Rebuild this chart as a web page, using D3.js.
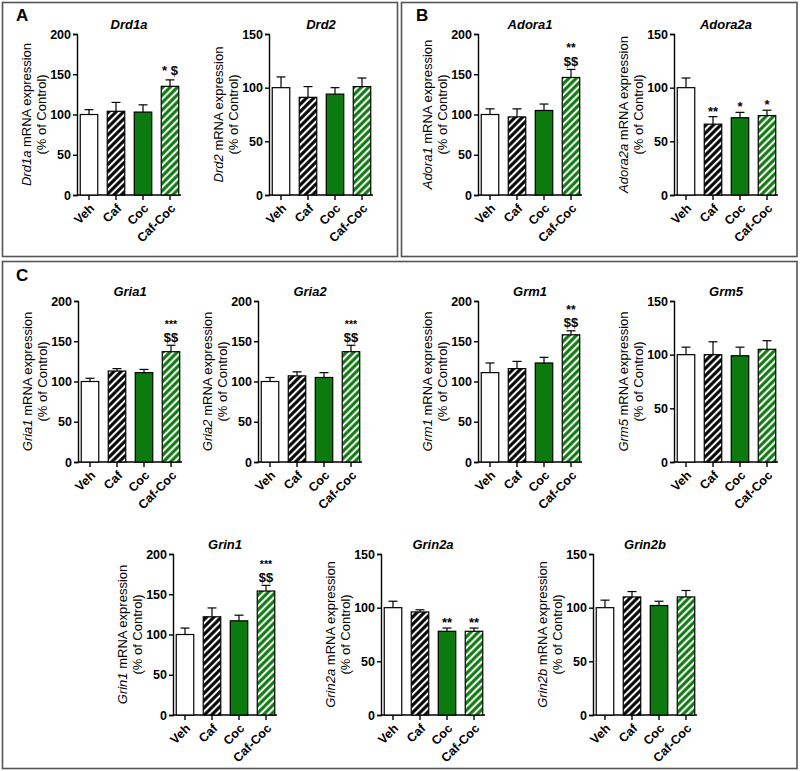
<!DOCTYPE html>
<html><head><meta charset="utf-8">
<script src="https://cdn.jsdelivr.net/npm/d3@7"></script>
<style>body{margin:0;background:#fff}svg{display:block}text{font-family:"Liberation Sans",Arial,sans-serif}</style>
</head><body>
<script>
const categories = ["Veh","Caf","Coc","Caf-Coc"];
const genes = ["Drd1a","Drd2","Adora1","Adora2a","Gria1","Gria2","Grm1","Grm5","Grin1","Grin2a","Grin2b"];
const yMaxes = [200,150,200,150,200,200,200,150,200,150,150];
const means = [
  [100,104,103,135],
  [100,91,94,101],
  [100,97,105,146],
  [100,66,72,74],
  [100,113,111,137],
  [100,107,105,137],
  [111,116,123,158],
  [100,100,99,105],
  [100,122,117,154],
  [100,96,78,78],
  [100,110,102,110]
];
const errTops = [
  [106,115,112,143],
  [110,101,100,109],
  [107,107,113,156],
  [109,73,77,79],
  [104,116,115,145],
  [105,112,111,145],
  [123,125,130,163],
  [107,112,107,113],
  [108,133,124,161],
  [106,98,81,81],
  [107,115,106,116]
];
const annotations = [
  [[],[],[],["* $"]],
  [[],[],[],[]],
  [[],[],[],["**","$$"]],
  [[],["**"],["*"],["*"]],
  [[],[],[],["***","$$"]],
  [[],[],[],["***","$$"]],
  [[],[],[],["**","$$"]],
  [[],[],[],[]],
  [[],[],[],["***","$$"]],
  [[],[],["**"],["**"]],
  [[],[],[],[]]
];
const panelLetters = ["A","B","C"];

// layout (positions only)
const layout = [
  {x:77, top:34, bot:195},{x:269, top:34, bot:195},
  {x:478, top:34, bot:195},{x:674, top:34, bot:195},
  {x:78, top:301, bot:462},{x:258, top:301, bot:462},
  {x:478, top:301, bot:462},{x:674, top:301, bot:462},
  {x:173, top:554, bot:715},{x:381, top:554, bot:715},
  {x:593, top:554, bot:715}
];
const boxes = [{x:2.5,y:2.5,w:395,h:254},{x:401.5,y:2.5,w:395.5,h:254},{x:2.5,y:261.5,w:794.5,h:507}];
const letterPos = [{x:16,y:21},{x:416,y:21},{x:16,y:281}];

const GREEN = "#0c7a0e";
const W = 800, H = 771;
const svg = d3.select("body").append("svg").attr("width",W).attr("height",H);
const defs = svg.append("defs");
function hatch(id, bg){
  const p = defs.append("pattern").attr("id",id).attr("patternUnits","userSpaceOnUse")
    .attr("width",5.2).attr("height",5.2).attr("patternTransform","rotate(45)");
  p.append("rect").attr("width",5.2).attr("height",5.2).attr("fill",bg);
  p.append("line").attr("x1",2.6).attr("x2",2.6).attr("y1",0).attr("y2",5.2)
    .attr("stroke","#fff").attr("stroke-width",2.1);
}
hatch("hBlack","#000");
hatch("hGreen",GREEN);
const fills = ["#fff","url(#hBlack)",GREEN,"url(#hGreen)"];

svg.selectAll("rect.box").data(boxes).join("rect").attr("class","box")
  .attr("x",d=>d.x).attr("y",d=>d.y).attr("width",d=>d.w).attr("height",d=>d.h)
  .attr("fill","none").attr("stroke","#555").attr("stroke-width",1.6);
svg.selectAll("text.letter").data(panelLetters).join("text").attr("class","letter")
  .attr("x",(d,i)=>letterPos[i].x).attr("y",(d,i)=>letterPos[i].y)
  .attr("font-size",17).attr("font-weight","bold").text(d=>d);

genes.forEach((gene,gi)=>{
  const L = layout[gi];
  const g = svg.append("g");
  const y = d3.scaleLinear().domain([0,yMaxes[gi]]).range([L.bot,L.top]);
  const x = d3.scalePoint().domain(categories).range([L.x+12,L.x+93]);
  const bw = 17.5;
  // y axis
  const ya = g.append("g").attr("transform",`translate(${L.x},0)`)
    .call(d3.axisLeft(y).tickValues(d3.range(0,yMaxes[gi]+1,50)).tickSize(4).tickPadding(2).tickFormat(d3.format("d")));
  ya.select(".domain").attr("stroke","#000").attr("stroke-width",1.4);
  ya.selectAll(".tick line").attr("stroke","#000").attr("stroke-width",1.4);
  ya.selectAll(".tick text").attr("font-size",12.5).attr("font-weight","bold").attr("fill","#000")
    .attr("font-family","Liberation Sans, Arial, sans-serif");
  // x axis
  const xa = g.append("g").attr("transform",`translate(0,${L.bot})`);
  xa.append("line").attr("x1",L.x).attr("x2",L.x+104).attr("stroke","#000").attr("stroke-width",1.4);
  xa.selectAll("line.t").data(categories).join("line").attr("class","t")
    .attr("x1",d=>x(d)).attr("x2",d=>x(d)).attr("y1",0).attr("y2",5).attr("stroke","#000").attr("stroke-width",1.4);
  xa.selectAll("text").data(categories).join("text")
    .attr("transform",d=>`translate(${x(d)+3},${11}) rotate(-45)`)
    .attr("text-anchor","end").attr("dy","0.35em").attr("font-size",12.5).attr("font-weight","bold").text(d=>d);
  // bars
  const data = categories.map((c,i)=>({c,i,v:means[gi][i],e:errTops[gi][i],a:annotations[gi][i]}));
  g.selectAll("line.err").data(data).join("line").attr("class","err")
    .attr("x1",d=>x(d.c)).attr("x2",d=>x(d.c)).attr("y1",d=>y(d.v)).attr("y2",d=>y(d.e))
    .attr("stroke","#000").attr("stroke-width",1.2);
  g.selectAll("line.cap").data(data).join("line").attr("class","cap")
    .attr("x1",d=>x(d.c)-4.5).attr("x2",d=>x(d.c)+4.5).attr("y1",d=>y(d.e)).attr("y2",d=>y(d.e))
    .attr("stroke","#000").attr("stroke-width",1.2);
  g.selectAll("rect.bar").data(data).join("rect").attr("class","bar")
    .attr("x",d=>x(d.c)-bw/2).attr("width",bw).attr("y",d=>y(d.v)).attr("height",d=>L.bot-y(d.v))
    .attr("fill",d=>fills[d.i]).attr("stroke","#000").attr("stroke-width",1.2);
  // annotations
  data.forEach(d=>{
    const n = d.a.length;
    const top = y(d.e);
    d.a.forEach((s,k)=>{
      const isStarOnly = s.indexOf("$")<0;
      let yy, fs;
      if (n===1) { yy = isStarOnly ? top-1 : top-5; fs = 13; }
      else if (k===n-1) { yy = top-3.5; fs = 13; }
      else { yy = top-17; fs = s.length>=3 ? 10.5 : 12; }
      g.append("text").attr("x",x(d.c)).attr("y",yy)
        .attr("text-anchor","middle").attr("font-size",fs).attr("font-weight","bold").text(s);
    });
  });
  // title
  g.append("text").attr("x",L.x+52).attr("y",L.top-5).attr("text-anchor","middle")
    .attr("font-size",13).attr("font-weight","bold").attr("font-style","italic").text(gene);
  // y label
  const cy = (L.top+L.bot)/2;
  const t1 = g.append("text").attr("transform",`translate(${L.x-46},${cy}) rotate(-90)`)
    .attr("text-anchor","middle").attr("font-size",13);
  t1.append("tspan").attr("font-style","italic").text(gene);
  t1.append("tspan").text(" mRNA expression");
  g.append("text").attr("transform",`translate(${L.x-31},${cy}) rotate(-90)`)
    .attr("text-anchor","middle").attr("font-size",13).text("(% of Control)");
});
</script>
</body></html>
